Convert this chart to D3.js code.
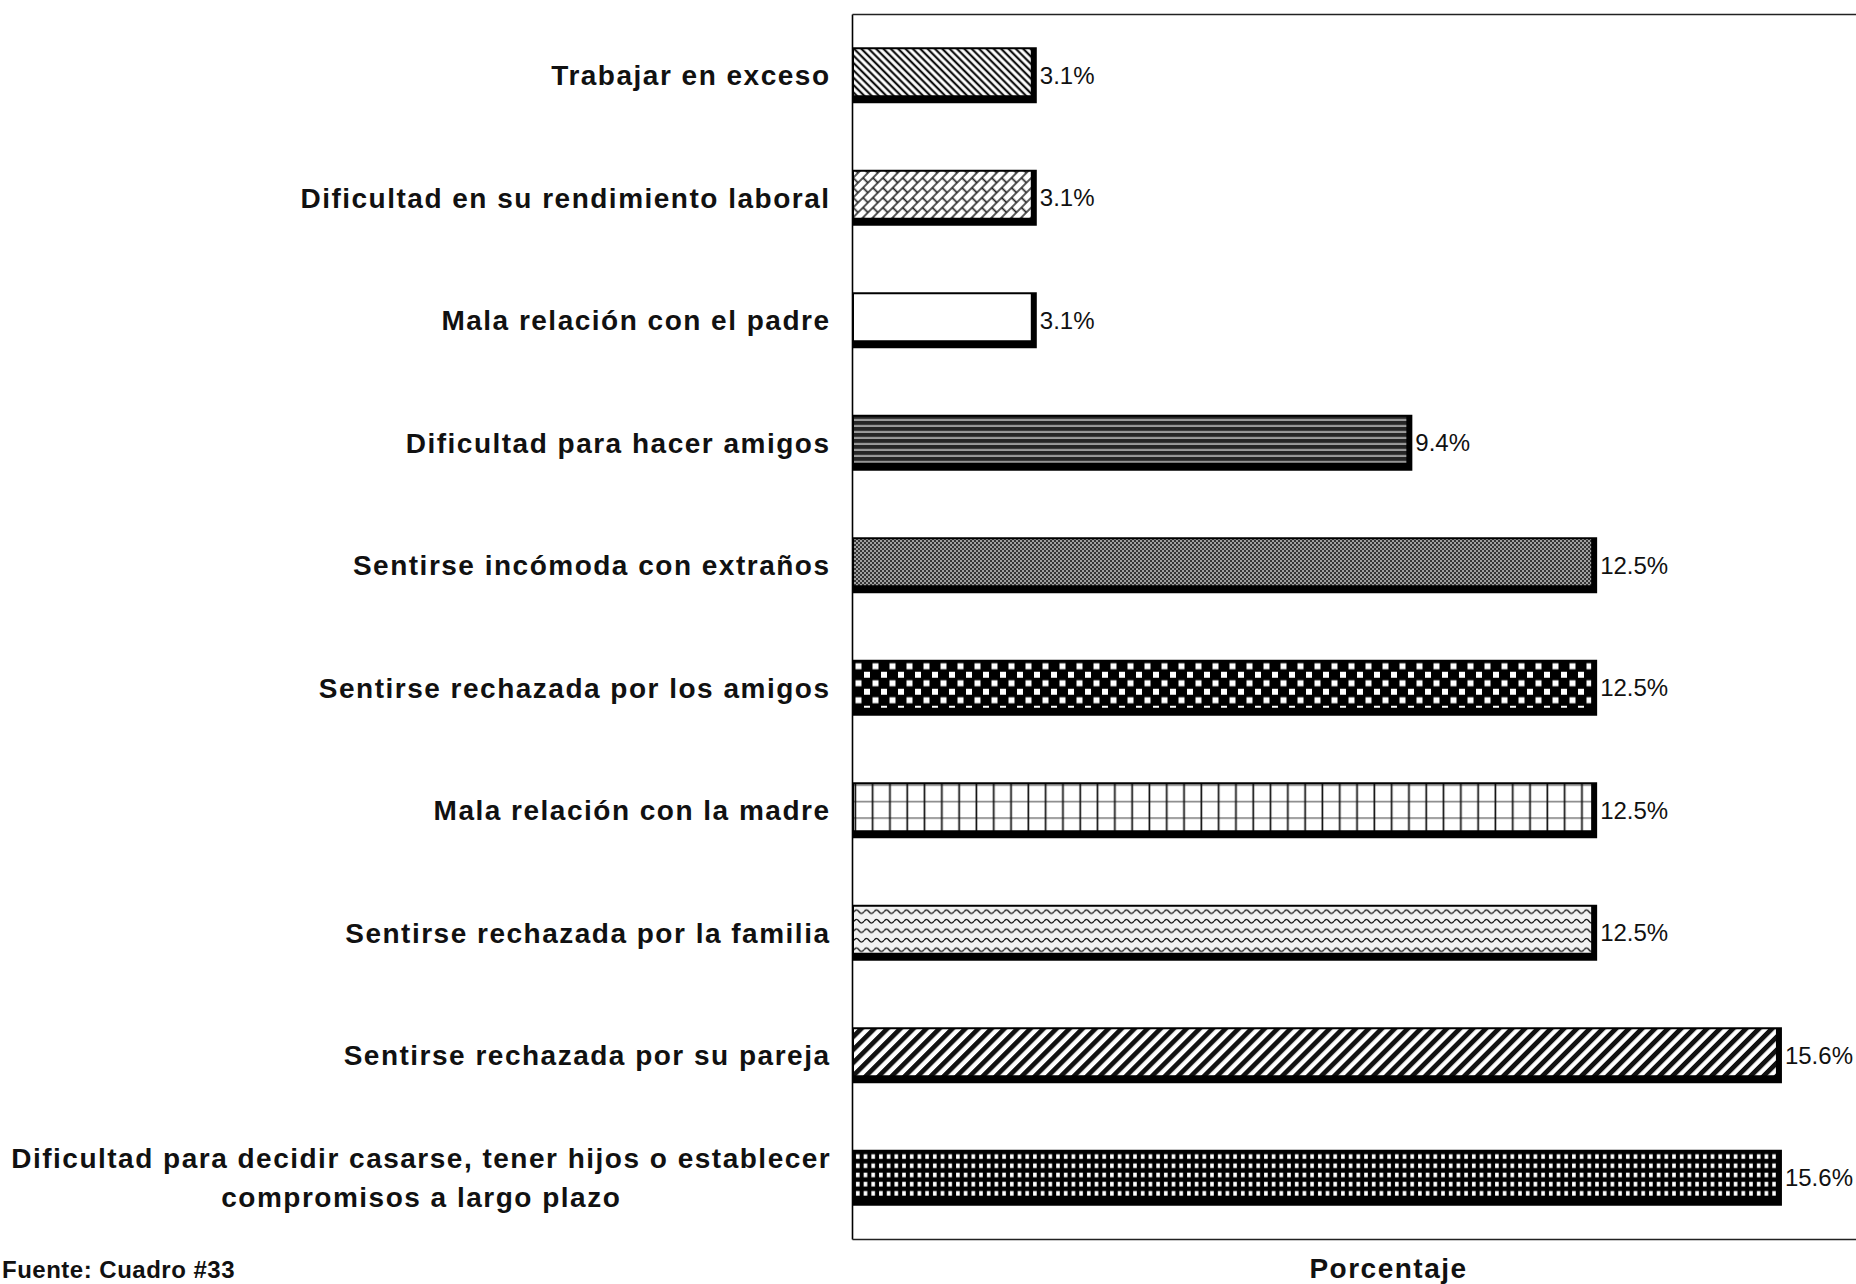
<!DOCTYPE html>
<html><head><meta charset="utf-8">
<script src="https://cdn.jsdelivr.net/npm/d3@7"></script>
<style>
html,body{margin:0;padding:0;background:#fff;}
svg{display:block;}
</style></head><body>
<svg id="chart" width="1856" height="1284"></svg>
<script>
// ---------------- data ----------------
const categories = [
  "Trabajar en exceso",
  "Dificultad en su rendimiento laboral",
  "Mala relación con el padre",
  "Dificultad para hacer amigos",
  "Sentirse incómoda con extraños",
  "Sentirse rechazada por los amigos",
  "Mala relación con la madre",
  "Sentirse rechazada por la familia",
  "Sentirse rechazada por su pareja",
  "Dificultad para decidir casarse, tener hijos o establecer\ncompromisos a largo plazo"
];
const values = [3.1, 3.1, 3.1, 9.4, 12.5, 12.5, 12.5, 12.5, 15.6, 15.6];
const xDomain = [0, 18];
const axisTitle = "Porcentaje";
const sourceNote = "Fuente: Cuadro #33";

// ---------------- layout / style ----------------
const W = 1856, H = 1284;
const plot = {left: 852, top: 14, right: 1925, bottom: 1239};
const svg = d3.select("#chart");
const x = d3.scaleLinear().domain(xDomain).range([plot.left, plot.right]);
const y = d3.scaleBand().domain(categories).range([plot.top, plot.bottom])
  .paddingInner(0.543).paddingOuter(0.2715);
const fmt = v => d3.format(".1f")(v) + "%";
const shadowR = 6, shadowB = 8, edge = 2;

const defs = svg.append("defs");
function pat(id, w, h, px, py, tr) {
  const p = defs.append("pattern").attr("id", id)
    .attr("patternUnits", "userSpaceOnUse")
    .attr("width", w).attr("height", h).attr("x", px).attr("y", py);
  if (tr) p.attr("patternTransform", tr);
  return p;
}
const patternBuilders = [
  (id) => { const p = pat(id, 5.2, 5.2, 0, 0, "rotate(-45)");
    p.append("rect").attr("width", 5.2).attr("height", 5.2).attr("fill", "#fff");
    p.append("rect").attr("x", 1.5).attr("width", 2.2).attr("height", 5.2).attr("fill", "#111"); },
  (id) => { const p = pat(id, 14, 14, 0, 0, "rotate(-45)");
    p.append("rect").attr("width", 14).attr("height", 14).attr("fill", "#fff");
    p.append("path").attr("d", "M0,1H14M0,8H14M1.5,1V8M8.5,8V14M8.5,0V1")
      .attr("stroke", "#222").attr("stroke-width", 1.7).attr("fill", "none"); },
  (id) => { const p = pat(id, 10, 10, 0, 0);
    p.append("rect").attr("width", 10).attr("height", 10).attr("fill", "#fff"); },
  (id, px, py) => { const p = pat(id, 10, 6, px, py);
    p.append("rect").attr("width", 10).attr("height", 6).attr("fill", "#262626");
    p.append("rect").attr("y", 2.5).attr("width", 10).attr("height", 1.3).attr("fill", "#e8e8e8"); },
  (id) => { const p = pat(id, 4, 4, 0, 0);
    p.append("rect").attr("width", 4).attr("height", 4).attr("fill", "#353535");
    p.append("rect").attr("width", 2).attr("height", 2).attr("fill", "#a0a0a0");
    p.append("rect").attr("x", 2).attr("y", 2).attr("width", 2).attr("height", 2).attr("fill", "#a0a0a0"); },
  (id, px, py) => { const p = pat(id, 17, 17, px, py);
    p.append("rect").attr("width", 17).attr("height", 17).attr("fill", "#000");
    p.append("rect").attr("x", 1.5).attr("y", 1.5).attr("width", 6).attr("height", 6).attr("fill", "#fff");
    p.append("rect").attr("x", 10).attr("y", 10).attr("width", 6).attr("height", 6).attr("fill", "#fff"); },
  (id, px, py) => { const p = pat(id, 17.3, 16.5, px, py);
    p.append("rect").attr("width", 17.3).attr("height", 16.5).attr("fill", "#fff");
    p.append("rect").attr("x", 0).attr("y", 0.2).attr("width", 17.3).attr("height", 1.3).attr("fill", "#666");
    p.append("rect").attr("x", 0.5).attr("width", 1.7).attr("height", 16.5).attr("fill", "#111"); },
  (id, px, py) => { const p = pat(id, 10, 9.5, px, py);
    p.append("rect").attr("width", 10).attr("height", 9.5).attr("fill", "#f1f1f1");
    p.append("path").attr("d", "M0,5 Q2.5,1.5 5,5 T10,5").attr("stroke", "#111")
      .attr("stroke-width", 1.3).attr("fill", "none"); },
  (id) => { const p = pat(id, 9.2, 9.2, 0, 0, "rotate(45)");
    p.append("rect").attr("width", 9.2).attr("height", 9.2).attr("fill", "#fff");
    p.append("rect").attr("x", 0).attr("width", 4.8).attr("height", 9.2).attr("fill", "#111"); },
  (id, px, py) => { const p = pat(id, 7.7, 9.2, px, py);
    p.append("rect").attr("width", 7.7).attr("height", 9.2).attr("fill", "#000");
    p.append("rect").attr("x", 2).attr("y", 2.5).attr("width", 3.6).attr("height", 4.6).attr("fill", "#fff"); }
];

const rows = categories.map((c, i) => ({c, v: values[i], i}));
rows.forEach(d => {
  patternBuilders[d.i]("pat" + d.i, x(0) + edge, y(d.c) + edge);
});

// ---------------- axes / frame ----------------
const axisG = svg.append("g").attr("class", "axes");
axisG.append("g").attr("transform", `translate(${plot.left},0)`)
  .call(d3.axisLeft(y).tickSize(0).tickFormat(""))
  .call(g => g.select(".domain").attr("stroke", "#000").attr("stroke-width", 1.6));
axisG.append("g").attr("transform", `translate(0,${plot.bottom})`)
  .call(d3.axisBottom(x).tickValues([]).tickSizeOuter(0))
  .call(g => g.select(".domain").attr("stroke", "#222").attr("stroke-width", 1.6));
axisG.append("g").attr("transform", `translate(0,${plot.top})`)
  .call(d3.axisTop(x).tickValues([]).tickSizeOuter(0))
  .call(g => g.select(".domain").attr("stroke", "#222").attr("stroke-width", 1.4));

// ---------------- bars ----------------
const bars = svg.append("g").attr("class", "bars");
const bg = bars.selectAll("g").data(rows).join("g");
bg.append("rect")
  .attr("x", x(0)).attr("y", d => y(d.c))
  .attr("width", d => x(d.v) - x(0)).attr("height", y.bandwidth())
  .attr("fill", "#000");
bg.append("rect")
  .attr("x", x(0) + edge).attr("y", d => y(d.c) + edge)
  .attr("width", d => x(d.v) - x(0) - edge - shadowR)
  .attr("height", y.bandwidth() - edge - shadowB)
  .attr("fill", d => `url(#pat${d.i})`);

// value labels
bars.selectAll("text.val").data(rows).join("text").attr("class", "val")
  .attr("x", d => x(d.v) + 3)
  .attr("y", d => y(d.c) + y.bandwidth() / 2)
  .attr("dy", "0.36em")
  .attr("font-family", "'Liberation Sans Narrow','Arial Narrow','Liberation Sans',Arial,sans-serif")
  .attr("font-size", 24)
  .attr("fill", "#111")
  .text(d => fmt(d.v));

// category labels
const labelRight = 830.5;
const lab = svg.append("g").attr("class", "cats")
  .attr("font-family", "'Liberation Sans',Arial,sans-serif")
  .attr("font-weight", "bold").attr("font-size", 28)
  .style("letter-spacing", "1.5px").attr("fill", "#111");
rows.forEach(d => {
  const lines = d.c.split("\n");
  const cy = y(d.c) + y.bandwidth() / 2;
  const t = lab.append("text");
  if (lines.length === 1) {
    t.attr("x", labelRight).attr("y", cy).attr("dy", "0.36em")
      .attr("text-anchor", "end").text(lines[0]);
  } else {
    const lh = 39;
    const ts = lines.map((ln, k) => t.append("tspan")
      .attr("y", cy + (k - (lines.length - 1) / 2) * lh).attr("dy", "0.36em")
      .attr("text-anchor", "middle").text(ln));
    const maxW = d3.max(ts, s => s.node().getComputedTextLength());
    ts.forEach(s => s.attr("x", labelRight - maxW / 2 + 0.75));
  }
});

// axis title
svg.append("text")
  .attr("x", (plot.left + plot.right) / 2).attr("y", plot.bottom + 29).attr("dy", "0.36em")
  .attr("text-anchor", "middle")
  .attr("font-family", "'Liberation Sans',Arial,sans-serif")
  .attr("font-weight", "bold").attr("font-size", 28)
  .style("letter-spacing", "1.5px").attr("fill", "#111")
  .text(axisTitle);

// source note
svg.append("text")
  .attr("x", 2).attr("y", 1278)
  .attr("text-anchor", "start")
  .attr("font-family", "'Liberation Sans',Arial,sans-serif")
  .attr("font-weight", "bold").attr("font-size", 24)
  .style("letter-spacing", "0.5px").attr("fill", "#111")
  .text(sourceNote);
</script>
</body></html>
